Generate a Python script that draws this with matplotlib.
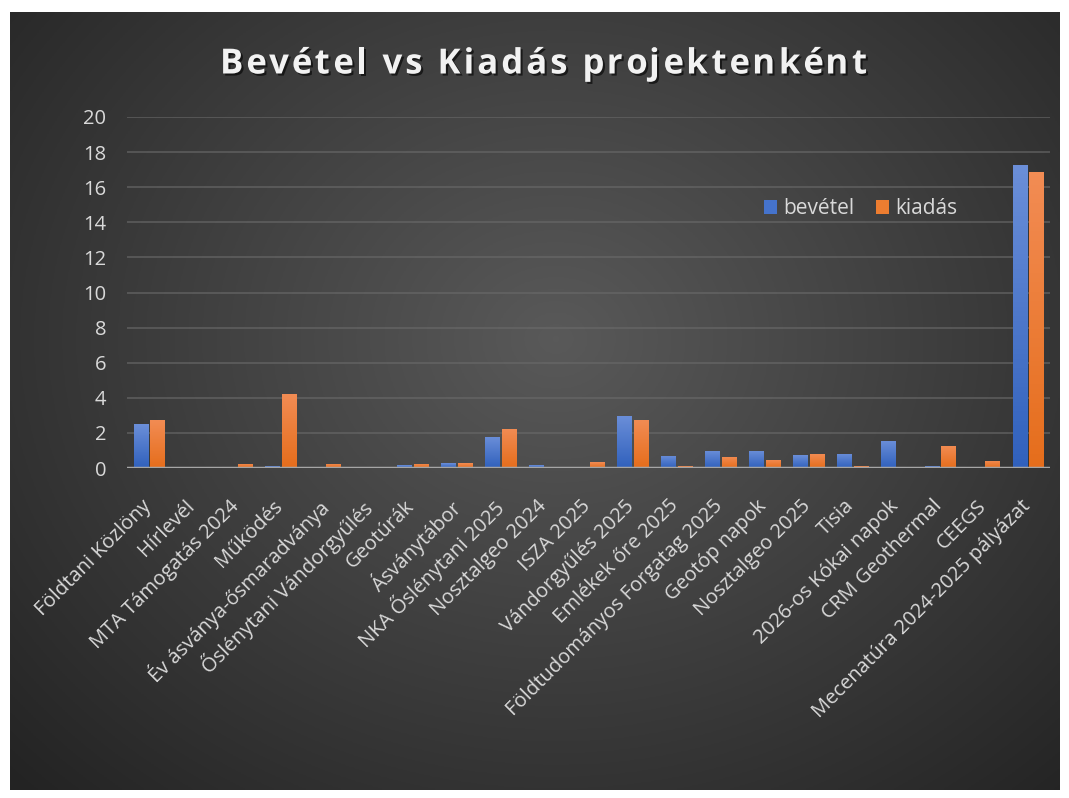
import numpy as np
import matplotlib.pyplot as plt
import matplotlib.patheffects as pe
import matplotlib.transforms as mtransforms
from matplotlib.patches import Patch
from matplotlib.font_manager import FontProperties

categories = ['Földtani Közlöny', 'Hírlevél', 'MTA Támogatás 2024', 'Működés',
              'Év ásványa-ősmaradványa', 'Őslénytani Vándorgyűlés', 'Geotúrák',
              'Ásványtábor', 'NKA Őslénytani 2025', 'Nosztalgeo 2024', 'ISZA 2025',
              'Vándorgyűlés 2025', 'Emlékek őre 2025', 'Földtudományos Forgatag 2025',
              'Geotóp napok', 'Nosztalgeo 2025', 'Tisia', '2026-os Kókai napok',
              'CRM Geothermal', 'CEEGS', 'Mecenatúra 2024-2025 pályázat']
bevetel = [2.5, 0, 0, 0.11, 0.05, 0, 0.17, 0.28, 1.77, 0.17, 0,
           2.97, 0.69, 0.97, 0.97, 0.74, 0.8, 1.54, 0.11, 0, 17.27]
kiadas = [2.75, 0.05, 0.24, 4.23, 0.24, 0.05, 0.24, 0.28, 2.23, 0, 0.34,
          2.74, 0.11, 0.63, 0.46, 0.8, 0.11, 0, 1.26, 0.4, 16.87]
yticks = [0, 2, 4, 6, 8, 10, 12, 14, 16, 18, 20]
title = 'Bevétel vs Kiadás projektenként'

plt.rcParams['font.family'] = ['Open Sans', 'DejaVu Sans']

W, H = 1069, 798
fig = plt.figure(figsize=(W / 100, H / 100), dpi=100)
fig.patch.set_facecolor('white')

# dark radial background
bg = fig.add_axes([10 / W, 8 / H, 1050 / W, 778 / H])
bg.set_axis_off()
yy, xx = np.mgrid[0:1:300j, 0:1:400j]
r = np.sqrt(((xx - 0.52) / 0.75) ** 2 + ((yy - 0.58) / 0.85) ** 2)
shade = np.clip(0.35 - 0.22 * r, 0.14, 0.36)
bg.imshow(np.dstack([shade] * 3), aspect='auto', extent=[0, 1, 0, 1], origin='lower')

ax = fig.add_axes([127 / W, 1 - 468 / H, 923 / W, 351 / H])
ax.set_facecolor('none')
x = np.arange(len(categories))
w = 0.32
off = 0.19


def grad_bars(xpos, vals, c_top, c_bot):
    bars = ax.bar(xpos, vals, w, color=c_bot, zorder=3)
    g = np.linspace(0, 1, 64).reshape(-1, 1)
    ct = np.array(c_top)
    cb = np.array(c_bot)
    img = (cb + (ct - cb) * g).reshape(64, 1, 3)
    for b in bars:
        if b.get_height() <= 0:
            continue
        x0, y0 = b.get_x(), b.get_y()
        im = ax.imshow(img, aspect='auto', origin='lower',
                       extent=[x0, x0 + b.get_width(), y0, y0 + b.get_height()],
                       zorder=3.5)
        im.set_clip_path(b)
    return bars


grad_bars(x - off, bevetel, (0.42, 0.56, 0.85), (0.19, 0.38, 0.74))
grad_bars(x + off, kiadas, (0.95, 0.55, 0.33), (0.90, 0.43, 0.11))

ax.set_xlim(-0.5, len(categories) - 0.5)
ax.set_ylim(0, 20)
ax.set_yticks(yticks)
ax.set_xticks(x)
ax.set_xticklabels(categories, rotation=45, ha='right', rotation_mode='anchor')
ax.tick_params(axis='both', length=0, colors='#d9d9d9', labelsize=14.5)
ax.tick_params(axis='y', pad=15)
ax.tick_params(axis='x', pad=10)
shift = mtransforms.ScaledTranslation(-0.08, -0.14, fig.dpi_scale_trans)
for lbl in ax.get_xticklabels():
    lbl.set_transform(lbl.get_transform() + shift)
for s in ax.spines.values():
    s.set_visible(False)
ax.grid(axis='y', color='#6a6a6a', linewidth=1.2, alpha=0.7, zorder=0)
ax.axhline(0, color='#a6a6a6', linewidth=2.5, zorder=4)
ax.set_autoscale_on(False)

handles = [Patch(facecolor=(0.27, 0.45, 0.80), label='bevétel'),
           Patch(facecolor=(0.93, 0.49, 0.19), label='kiadás')]
leg = fig.legend(handles=handles, loc='center left', ncol=2, frameon=False,
                 bbox_to_anchor=(745 / W, 1 - 209 / H), fontsize=15,
                 handlelength=0.65, handleheight=0.65, handletextpad=0.3,
                 columnspacing=1.0)
for t in leg.get_texts():
    t.set_color('#d9d9d9')

# title with letter spacing
fp = FontProperties(family='Open Sans', weight='bold', size=25)
renderer = fig.canvas.get_renderer()
spacing = 3.0
wx = renderer.get_text_width_height_descent('x', fp, ismath=False)[0]
pos = []
for i in range(len(title)):
    wpx = renderer.get_text_width_height_descent(title[:i] + 'x', fp, ismath=False)[0]
    pos.append(wpx - wx + i * spacing)
total = renderer.get_text_width_height_descent(title, fp, ismath=False)[0] + (len(title) - 1) * spacing
x_start = (W - total) / 2 + 9
shadow = [pe.withSimplePatchShadow(offset=(1.5, -1.5), shadow_rgbFace='black', alpha=0.6)]
for ch, p in zip(title, pos):
    if ch == ' ':
        continue
    fig.text((x_start + p) / W, 1 - 60 / H, ch, ha='left', va='center_baseline',
             color='#f2f2f2', fontproperties=fp, path_effects=shadow)

fig.savefig('out.png', dpi=100, facecolor='white')
